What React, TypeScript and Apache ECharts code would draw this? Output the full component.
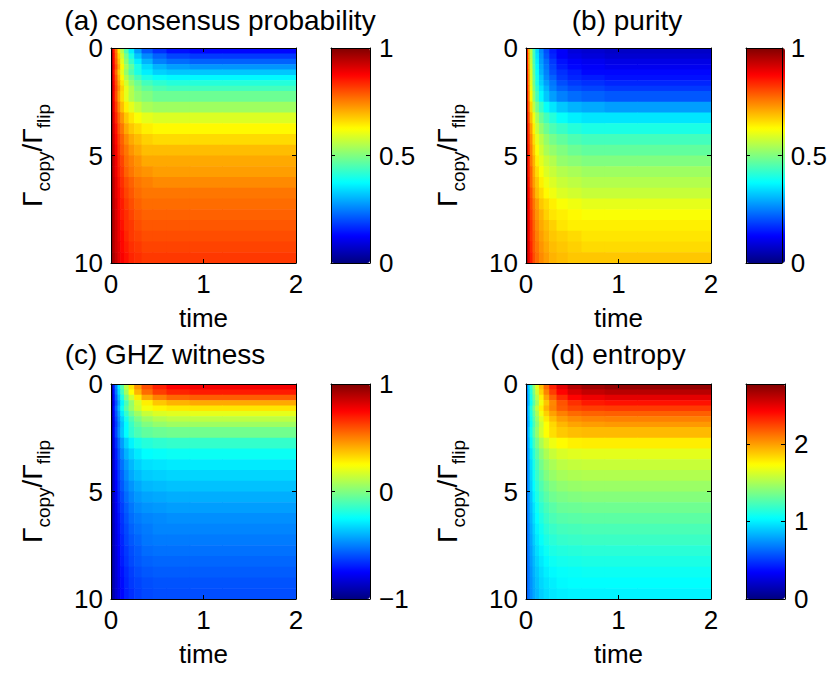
import React, { useEffect, useRef } from 'react';
import * as echarts from 'echarts';

// Grid cell edges (time along x, Gamma_copy/Gamma_flip along y)
const timeEdges = [0, 0.02, 0.04, 0.07, 0.1, 0.14, 0.19, 0.25, 0.33, 0.45, 0.6, 0.85, 1.2, 2.0];
const ratioEdges = [0, 0.25, 0.5, 0.75, 1, 1.25, 1.5, 1.75, 2, 2.5, 3, 3.5, 4, 4.5, 5, 5.5, 6, 6.5, 7, 7.5, 8, 8.5, 9, 9.5, 10];

// (a) consensus probability, rows = ratio cells, cols = time cells
const consensus = [
  [0.95, 0.86, 0.76, 0.65, 0.55, 0.45, 0.36, 0.28, 0.21, 0.17, 0.14, 0.13, 0.13],
  [0.95, 0.87, 0.77, 0.67, 0.58, 0.49, 0.40, 0.32, 0.26, 0.22, 0.19, 0.18, 0.18],
  [0.95, 0.87, 0.78, 0.69, 0.60, 0.51, 0.43, 0.36, 0.30, 0.25, 0.23, 0.22, 0.22],
  [0.96, 0.88, 0.80, 0.71, 0.63, 0.54, 0.47, 0.40, 0.34, 0.30, 0.28, 0.27, 0.27],
  [0.95, 0.86, 0.77, 0.68, 0.60, 0.52, 0.45, 0.40, 0.36, 0.33, 0.32, 0.32, 0.32],
  [0.95, 0.87, 0.79, 0.70, 0.63, 0.55, 0.49, 0.44, 0.40, 0.38, 0.37, 0.37, 0.37],
  [0.96, 0.88, 0.80, 0.72, 0.65, 0.58, 0.52, 0.48, 0.44, 0.42, 0.41, 0.41, 0.41],
  [0.96, 0.89, 0.81, 0.74, 0.67, 0.60, 0.55, 0.50, 0.47, 0.45, 0.44, 0.44, 0.44],
  [0.96, 0.88, 0.80, 0.72, 0.66, 0.60, 0.55, 0.52, 0.50, 0.48, 0.48, 0.48, 0.48],
  [0.96, 0.89, 0.82, 0.75, 0.69, 0.64, 0.60, 0.57, 0.54, 0.53, 0.53, 0.53, 0.53],
  [0.97, 0.90, 0.84, 0.78, 0.73, 0.68, 0.65, 0.62, 0.60, 0.59, 0.59, 0.59, 0.59],
  [0.97, 0.91, 0.86, 0.80, 0.76, 0.71, 0.68, 0.66, 0.64, 0.63, 0.63, 0.63, 0.63],
  [0.97, 0.92, 0.87, 0.82, 0.78, 0.74, 0.71, 0.69, 0.67, 0.66, 0.66, 0.66, 0.66],
  [0.97, 0.93, 0.88, 0.83, 0.79, 0.76, 0.73, 0.71, 0.69, 0.69, 0.69, 0.69, 0.69],
  [0.98, 0.93, 0.89, 0.84, 0.81, 0.77, 0.75, 0.73, 0.71, 0.71, 0.71, 0.71, 0.71],
  [0.98, 0.93, 0.89, 0.85, 0.82, 0.78, 0.76, 0.74, 0.73, 0.72, 0.72, 0.72, 0.72],
  [0.98, 0.94, 0.90, 0.86, 0.83, 0.80, 0.78, 0.76, 0.75, 0.74, 0.74, 0.74, 0.74],
  [0.98, 0.94, 0.90, 0.87, 0.84, 0.81, 0.79, 0.77, 0.76, 0.76, 0.76, 0.76, 0.76],
  [0.98, 0.94, 0.91, 0.87, 0.85, 0.82, 0.80, 0.78, 0.77, 0.77, 0.77, 0.77, 0.77],
  [0.98, 0.95, 0.91, 0.88, 0.85, 0.83, 0.81, 0.79, 0.78, 0.78, 0.78, 0.78, 0.78],
  [0.98, 0.95, 0.92, 0.89, 0.86, 0.83, 0.82, 0.80, 0.79, 0.79, 0.79, 0.79, 0.79],
  [0.98, 0.95, 0.92, 0.89, 0.87, 0.84, 0.82, 0.81, 0.80, 0.80, 0.80, 0.80, 0.80],
  [0.98, 0.95, 0.92, 0.90, 0.87, 0.85, 0.83, 0.82, 0.81, 0.81, 0.81, 0.81, 0.81],
  [0.98, 0.96, 0.93, 0.90, 0.88, 0.86, 0.84, 0.83, 0.82, 0.82, 0.82, 0.82, 0.82],
];

// (b) purity
const purity = [
  [0.89, 0.71, 0.56, 0.44, 0.34, 0.26, 0.20, 0.15, 0.12, 0.09, 0.08, 0.07, 0.07],
  [0.89, 0.72, 0.56, 0.44, 0.35, 0.27, 0.21, 0.16, 0.12, 0.10, 0.09, 0.08, 0.08],
  [0.89, 0.72, 0.57, 0.45, 0.36, 0.28, 0.23, 0.18, 0.14, 0.12, 0.11, 0.10, 0.10],
  [0.89, 0.73, 0.58, 0.46, 0.37, 0.29, 0.24, 0.19, 0.15, 0.13, 0.12, 0.11, 0.11],
  [0.90, 0.73, 0.59, 0.47, 0.38, 0.30, 0.25, 0.20, 0.17, 0.15, 0.13, 0.13, 0.13],
  [0.90, 0.74, 0.59, 0.48, 0.39, 0.32, 0.26, 0.22, 0.18, 0.16, 0.15, 0.14, 0.14],
  [0.90, 0.74, 0.60, 0.49, 0.40, 0.33, 0.28, 0.24, 0.20, 0.18, 0.17, 0.16, 0.16],
  [0.90, 0.75, 0.61, 0.50, 0.42, 0.35, 0.30, 0.25, 0.22, 0.20, 0.19, 0.18, 0.18],
  [0.91, 0.76, 0.63, 0.52, 0.44, 0.37, 0.32, 0.28, 0.25, 0.23, 0.22, 0.21, 0.21],
  [0.91, 0.78, 0.66, 0.56, 0.49, 0.43, 0.38, 0.35, 0.32, 0.30, 0.29, 0.28, 0.28],
  [0.92, 0.80, 0.69, 0.61, 0.54, 0.48, 0.44, 0.41, 0.38, 0.36, 0.35, 0.35, 0.35],
  [0.93, 0.82, 0.72, 0.64, 0.57, 0.52, 0.48, 0.45, 0.43, 0.41, 0.40, 0.40, 0.40],
  [0.93, 0.83, 0.74, 0.66, 0.60, 0.56, 0.52, 0.49, 0.47, 0.45, 0.44, 0.44, 0.44],
  [0.94, 0.84, 0.75, 0.68, 0.62, 0.58, 0.54, 0.52, 0.50, 0.48, 0.47, 0.47, 0.47],
  [0.94, 0.85, 0.76, 0.70, 0.64, 0.60, 0.57, 0.55, 0.52, 0.51, 0.50, 0.50, 0.50],
  [0.94, 0.85, 0.78, 0.71, 0.66, 0.62, 0.59, 0.57, 0.55, 0.54, 0.53, 0.53, 0.53],
  [0.95, 0.86, 0.78, 0.72, 0.68, 0.64, 0.61, 0.59, 0.57, 0.56, 0.55, 0.55, 0.55],
  [0.95, 0.87, 0.80, 0.74, 0.69, 0.66, 0.63, 0.61, 0.59, 0.58, 0.57, 0.57, 0.57],
  [0.95, 0.88, 0.81, 0.76, 0.72, 0.68, 0.66, 0.64, 0.62, 0.61, 0.60, 0.60, 0.60],
  [0.95, 0.88, 0.82, 0.77, 0.73, 0.70, 0.67, 0.65, 0.64, 0.63, 0.62, 0.62, 0.62],
  [0.96, 0.89, 0.83, 0.78, 0.74, 0.71, 0.69, 0.67, 0.65, 0.64, 0.64, 0.64, 0.64],
  [0.96, 0.89, 0.83, 0.79, 0.75, 0.72, 0.70, 0.68, 0.67, 0.66, 0.65, 0.65, 0.65],
  [0.96, 0.90, 0.84, 0.79, 0.76, 0.73, 0.71, 0.69, 0.68, 0.67, 0.66, 0.66, 0.66],
  [0.96, 0.90, 0.85, 0.80, 0.77, 0.74, 0.72, 0.70, 0.69, 0.68, 0.68, 0.68, 0.68],
];

// (c) GHZ witness
const ghzWitness = [
  [-0.90, -0.71, -0.50, -0.29, -0.09, 0.11, 0.30, 0.46, 0.60, 0.69, 0.75, 0.77, 0.77],
  [-0.90, -0.72, -0.52, -0.32, -0.13, 0.07, 0.25, 0.40, 0.54, 0.63, 0.68, 0.70, 0.70],
  [-0.91, -0.74, -0.56, -0.37, -0.20, -0.01, 0.15, 0.29, 0.42, 0.50, 0.55, 0.57, 0.57],
  [-0.92, -0.77, -0.60, -0.43, -0.27, -0.11, 0.04, 0.17, 0.28, 0.36, 0.40, 0.42, 0.42],
  [-0.91, -0.74, -0.56, -0.39, -0.23, -0.08, 0.05, 0.15, 0.23, 0.27, 0.29, 0.30, 0.30],
  [-0.91, -0.76, -0.59, -0.44, -0.29, -0.15, -0.03, 0.06, 0.14, 0.18, 0.19, 0.20, 0.20],
  [-0.92, -0.78, -0.62, -0.47, -0.34, -0.21, -0.10, -0.01, 0.06, 0.10, 0.12, 0.12, 0.12],
  [-0.92, -0.79, -0.64, -0.50, -0.37, -0.25, -0.14, -0.06, 0.00, 0.04, 0.06, 0.06, 0.06],
  [-0.92, -0.77, -0.62, -0.48, -0.36, -0.25, -0.16, -0.10, -0.06, -0.04, -0.03, -0.03, -0.03],
  [-0.93, -0.80, -0.67, -0.55, -0.44, -0.34, -0.27, -0.21, -0.18, -0.16, -0.15, -0.15, -0.15],
  [-0.93, -0.82, -0.70, -0.59, -0.49, -0.40, -0.34, -0.29, -0.25, -0.24, -0.23, -0.23, -0.23],
  [-0.94, -0.83, -0.72, -0.62, -0.53, -0.45, -0.39, -0.34, -0.31, -0.30, -0.29, -0.29, -0.29],
  [-0.94, -0.84, -0.74, -0.64, -0.56, -0.48, -0.42, -0.38, -0.35, -0.34, -0.33, -0.33, -0.33],
  [-0.95, -0.85, -0.75, -0.66, -0.58, -0.51, -0.46, -0.42, -0.39, -0.38, -0.37, -0.37, -0.37],
  [-0.95, -0.86, -0.77, -0.68, -0.61, -0.54, -0.49, -0.45, -0.43, -0.42, -0.41, -0.41, -0.41],
  [-0.95, -0.87, -0.78, -0.70, -0.63, -0.57, -0.52, -0.48, -0.46, -0.45, -0.44, -0.44, -0.44],
  [-0.95, -0.87, -0.79, -0.72, -0.65, -0.59, -0.54, -0.51, -0.49, -0.48, -0.47, -0.47, -0.47],
  [-0.96, -0.88, -0.80, -0.73, -0.66, -0.61, -0.56, -0.53, -0.51, -0.49, -0.49, -0.49, -0.49],
  [-0.96, -0.88, -0.81, -0.74, -0.68, -0.62, -0.58, -0.55, -0.52, -0.51, -0.51, -0.51, -0.51],
  [-0.96, -0.89, -0.82, -0.75, -0.69, -0.64, -0.60, -0.57, -0.54, -0.53, -0.53, -0.53, -0.53],
  [-0.96, -0.89, -0.83, -0.76, -0.70, -0.65, -0.61, -0.58, -0.56, -0.55, -0.55, -0.55, -0.55],
  [-0.96, -0.90, -0.83, -0.77, -0.72, -0.67, -0.63, -0.60, -0.58, -0.57, -0.57, -0.57, -0.57],
  [-0.96, -0.90, -0.84, -0.78, -0.73, -0.68, -0.64, -0.62, -0.60, -0.59, -0.59, -0.59, -0.59],
  [-0.97, -0.91, -0.84, -0.79, -0.74, -0.69, -0.66, -0.63, -0.61, -0.60, -0.60, -0.60, -0.60],
];

// (d) entropy
const entropy = [
  [0.68, 0.91, 1.16, 1.42, 1.66, 1.91, 2.14, 2.34, 2.51, 2.63, 2.69, 2.72, 2.72],
  [0.67, 0.89, 1.13, 1.38, 1.61, 1.85, 2.07, 2.26, 2.42, 2.53, 2.59, 2.62, 2.62],
  [0.66, 0.87, 1.10, 1.33, 1.55, 1.77, 1.98, 2.16, 2.31, 2.42, 2.47, 2.50, 2.50],
  [0.66, 0.85, 1.06, 1.28, 1.49, 1.70, 1.89, 2.06, 2.20, 2.30, 2.36, 2.38, 2.38],
  [0.67, 0.90, 1.13, 1.36, 1.57, 1.77, 1.94, 2.07, 2.18, 2.24, 2.26, 2.27, 2.27],
  [0.67, 0.88, 1.10, 1.31, 1.51, 1.70, 1.86, 1.99, 2.08, 2.14, 2.16, 2.17, 2.17],
  [0.66, 0.86, 1.07, 1.27, 1.46, 1.64, 1.79, 1.91, 2.00, 2.05, 2.07, 2.08, 2.08],
  [0.66, 0.84, 1.04, 1.24, 1.42, 1.59, 1.73, 1.84, 1.93, 1.98, 2.00, 2.01, 2.01],
  [0.67, 0.88, 1.08, 1.28, 1.45, 1.61, 1.73, 1.82, 1.88, 1.91, 1.92, 1.92, 1.92],
  [0.66, 0.84, 1.03, 1.21, 1.36, 1.50, 1.61, 1.69, 1.74, 1.77, 1.78, 1.78, 1.78],
  [0.65, 0.81, 0.98, 1.14, 1.28, 1.41, 1.51, 1.58, 1.63, 1.65, 1.66, 1.66, 1.66],
  [0.64, 0.79, 0.95, 1.10, 1.23, 1.35, 1.44, 1.50, 1.55, 1.57, 1.58, 1.58, 1.58],
  [0.63, 0.78, 0.93, 1.07, 1.19, 1.30, 1.39, 1.45, 1.49, 1.51, 1.52, 1.52, 1.52],
  [0.63, 0.77, 0.91, 1.04, 1.15, 1.25, 1.33, 1.39, 1.43, 1.45, 1.46, 1.46, 1.46],
  [0.62, 0.75, 0.88, 1.01, 1.11, 1.21, 1.28, 1.34, 1.37, 1.39, 1.40, 1.40, 1.40],
  [0.62, 0.74, 0.86, 0.97, 1.07, 1.16, 1.23, 1.28, 1.32, 1.33, 1.34, 1.34, 1.34],
  [0.61, 0.73, 0.84, 0.95, 1.04, 1.12, 1.19, 1.24, 1.27, 1.28, 1.29, 1.29, 1.29],
  [0.61, 0.71, 0.82, 0.92, 1.01, 1.08, 1.15, 1.19, 1.22, 1.23, 1.24, 1.24, 1.24],
  [0.61, 0.70, 0.80, 0.90, 0.98, 1.05, 1.11, 1.15, 1.18, 1.19, 1.20, 1.20, 1.20],
  [0.60, 0.69, 0.78, 0.87, 0.95, 1.01, 1.07, 1.11, 1.13, 1.14, 1.15, 1.15, 1.15],
  [0.60, 0.68, 0.77, 0.85, 0.92, 0.98, 1.03, 1.07, 1.09, 1.10, 1.11, 1.11, 1.11],
  [0.60, 0.67, 0.75, 0.83, 0.89, 0.95, 1.00, 1.03, 1.05, 1.06, 1.07, 1.07, 1.07],
  [0.59, 0.67, 0.74, 0.81, 0.87, 0.93, 0.97, 1.00, 1.03, 1.04, 1.04, 1.04, 1.04],
  [0.59, 0.66, 0.73, 0.80, 0.85, 0.91, 0.95, 0.98, 1.00, 1.01, 1.01, 1.01, 1.01],
];

const panelTitles = ['(a) consensus probability', '(b) purity', '(c) GHZ witness', '(d) entropy'];
const panelValues = [consensus, purity, ghzWitness, entropy];
const colorMin = [0, 0, -1, 0];
const colorMax = [1, 1, 1, Math.log(16)];
const colorStep = [0.5, 0.5, 1, 1];

const JET = ['#000080', '#0000ff', '#0080ff', '#00ffff', '#80ff80', '#ffff00', '#ff8000', '#ff0000', '#800000'];

const FONT = '"Liberation Sans", Arial, Helvetica, sans-serif';

// layout (pixels)
const LAYOUT = [
  { left: 111, top: 48, titleX: 220, titleY: 20 },
  { left: 526, top: 48, titleX: 627, titleY: 20 },
  { left: 111, top: 384, titleX: 165, titleY: 354 },
  { left: 526, top: 384, titleX: 618, titleY: 354 },
];
const PLOT_W = 185;
const PLOT_H = 215;
const CB_OFFSET = 220;
const CB_W = 39;

function toCells(values: number[][]) {
  const out: number[][] = [];
  values.forEach((row, i) => {
    row.forEach((v, j) => {
      out.push([timeEdges[j], timeEdges[j + 1], ratioEdges[i], ratioEdges[i + 1], v]);
    });
  });
  return out;
}

const fmtNum = (v: number) => (v < 0 ? '\u2212' + String(Math.abs(v)) : String(v));

function buildOption() {
  const black = { color: '#000', width: 1 };
  const grid: any[] = [];
  const xAxis: any[] = [];
  const yAxis: any[] = [];
  const series: any[] = [];
  const visualMap: any[] = [];
  const graphic: any[] = [];

  for (let i = 0; i < 4; i++) {
    const L = LAYOUT[i];
    grid.push({ left: L.left, top: L.top, width: PLOT_W, height: PLOT_H, containLabel: false });
  }
  for (let i = 0; i < 4; i++) {
    const L = LAYOUT[i];
    grid.push({ left: L.left + CB_OFFSET, top: L.top, width: CB_W, height: PLOT_H, containLabel: false });
  }

  // plot axes
  for (let i = 0; i < 4; i++) {
    xAxis.push({
      gridIndex: i, type: 'value', min: 0, max: 2, interval: 1, position: 'bottom', z: 10,
      name: 'time', nameLocation: 'middle', nameGap: 42,
      nameTextStyle: { fontSize: 26, color: '#000', fontFamily: FONT },
      axisLine: { show: true, onZero: false, lineStyle: black },
      axisTick: { show: true, inside: true, length: 4, lineStyle: black },
      axisLabel: { fontSize: 26, color: '#000', fontFamily: FONT, margin: 8 },
      splitLine: { show: false },
    });
  }
  for (let i = 0; i < 4; i++) {
    xAxis.push({
      gridIndex: i, type: 'value', min: 0, max: 2, interval: 1, position: 'top', z: 10,
      axisLine: { show: true, onZero: false, lineStyle: black },
      axisTick: { show: true, inside: true, length: 4, lineStyle: black },
      axisLabel: { show: false }, splitLine: { show: false },
    });
  }
  for (let i = 0; i < 4; i++) {
    xAxis.push({
      gridIndex: 4 + i, type: 'value', min: 0, max: 1, position: 'bottom', z: 10,
      axisLine: { show: true, onZero: false, lineStyle: black },
      axisTick: { show: false }, axisLabel: { show: false }, splitLine: { show: false },
    });
  }
  for (let i = 0; i < 4; i++) {
    xAxis.push({
      gridIndex: 4 + i, type: 'value', min: 0, max: 1, position: 'top', z: 10,
      axisLine: { show: true, onZero: false, lineStyle: black },
      axisTick: { show: false }, axisLabel: { show: false }, splitLine: { show: false },
    });
  }

  for (let i = 0; i < 4; i++) {
    yAxis.push({
      gridIndex: i, type: 'value', inverse: true, min: 0, max: 10, interval: 5, position: 'left', z: 10,
      axisLine: { show: true, onZero: false, lineStyle: black },
      axisTick: { show: true, inside: true, length: 4, lineStyle: black },
      axisLabel: { fontSize: 26, color: '#000', fontFamily: FONT, margin: 8 },
      splitLine: { show: false },
    });
  }
  for (let i = 0; i < 4; i++) {
    yAxis.push({
      gridIndex: i, type: 'value', inverse: true, min: 0, max: 10, interval: 5, position: 'right', z: 10,
      axisLine: { show: true, onZero: false, lineStyle: black },
      axisTick: { show: true, inside: true, length: 4, lineStyle: black },
      axisLabel: { show: false }, splitLine: { show: false },
    });
  }
  for (let i = 0; i < 4; i++) {
    yAxis.push({
      gridIndex: 4 + i, type: 'value', min: colorMin[i], max: colorMax[i], interval: colorStep[i], position: 'right', z: 10,
      axisLine: { show: true, onZero: false, lineStyle: black },
      axisTick: { show: true, inside: true, length: 4, lineStyle: black },
      axisLabel: {
        fontSize: 26, color: '#000', fontFamily: FONT, margin: 9,
        showMaxLabel: i !== 3, formatter: fmtNum,
      },
      splitLine: { show: false },
    });
  }
  for (let i = 0; i < 4; i++) {
    yAxis.push({
      gridIndex: 4 + i, type: 'value', min: colorMin[i], max: colorMax[i], interval: colorStep[i], position: 'left', z: 10,
      axisLine: { show: true, onZero: false, lineStyle: black },
      axisTick: { show: true, inside: true, length: 4, lineStyle: black },
      axisLabel: { show: false }, splitLine: { show: false },
    });
  }

  for (let i = 0; i < 4; i++) {
    series.push({
      type: 'custom',
      xAxisIndex: i,
      yAxisIndex: i,
      clip: true,
      silent: true,
      encode: { x: [0, 1], y: [2, 3] },
      data: toCells(panelValues[i]),
      renderItem: (params: any, api: any) => {
        const a = api.coord([api.value(0), api.value(2)]);
        const b = api.coord([api.value(1), api.value(3)]);
        return {
          type: 'rect',
          shape: { x: a[0], y: a[1], width: b[0] - a[0] + 0.6, height: b[1] - a[1] + 0.6 },
          style: { fill: api.visual('color'), stroke: null },
        };
      },
    });
    const L = LAYOUT[i];
    visualMap.push({
      type: 'continuous',
      seriesIndex: i,
      dimension: 4,
      min: colorMin[i],
      max: colorMax[i],
      inRange: { color: JET },
      orient: 'vertical',
      left: L.left + CB_OFFSET,
      top: L.top,
      itemWidth: CB_W,
      itemHeight: PLOT_H,
      padding: 0,
      calculable: false,
      hoverLink: false,
      text: null,
      z: 4,
    });

    graphic.push({
      type: 'text',
      x: L.titleX,
      y: L.titleY,
      style: {
        text: panelTitles[i], fontSize: 28, fontFamily: FONT, fill: '#000',
        align: 'center', verticalAlign: 'middle',
      },
    });
    graphic.push({
      type: 'text',
      x: L.left - 78.5,
      y: L.top + PLOT_H / 2,
      rotation: Math.PI / 2,
      style: {
        text: '{g|\u0393}{s|copy}{g|/\u0393}{s|flip}',
        align: 'center',
        verticalAlign: 'middle',
        fill: '#000',
        rich: {
          g: { fontSize: 28, fontFamily: FONT, fill: '#000' },
          s: { fontSize: 19, fontFamily: FONT, fill: '#000', padding: [22, 0, 0, 0] },
        },
      },
    });
  }

  return {
    animation: false,
    backgroundColor: '#ffffff',
    textStyle: { fontFamily: FONT },
    grid, xAxis, yAxis, series, visualMap, graphic,
  };
}

export default function App() {
  const ref = useRef<HTMLDivElement | null>(null);
  useEffect(() => {
    if (!ref.current) return;
    const chart = echarts.init(ref.current, null, { renderer: 'svg' });
    chart.setOption(buildOption() as any);
    return () => chart.dispose();
  }, []);
  return (
    <div
      ref={ref}
      style={{ position: 'absolute', left: 0, top: 0, width: 830, height: 686, background: '#fff' }}
    />
  );
}
